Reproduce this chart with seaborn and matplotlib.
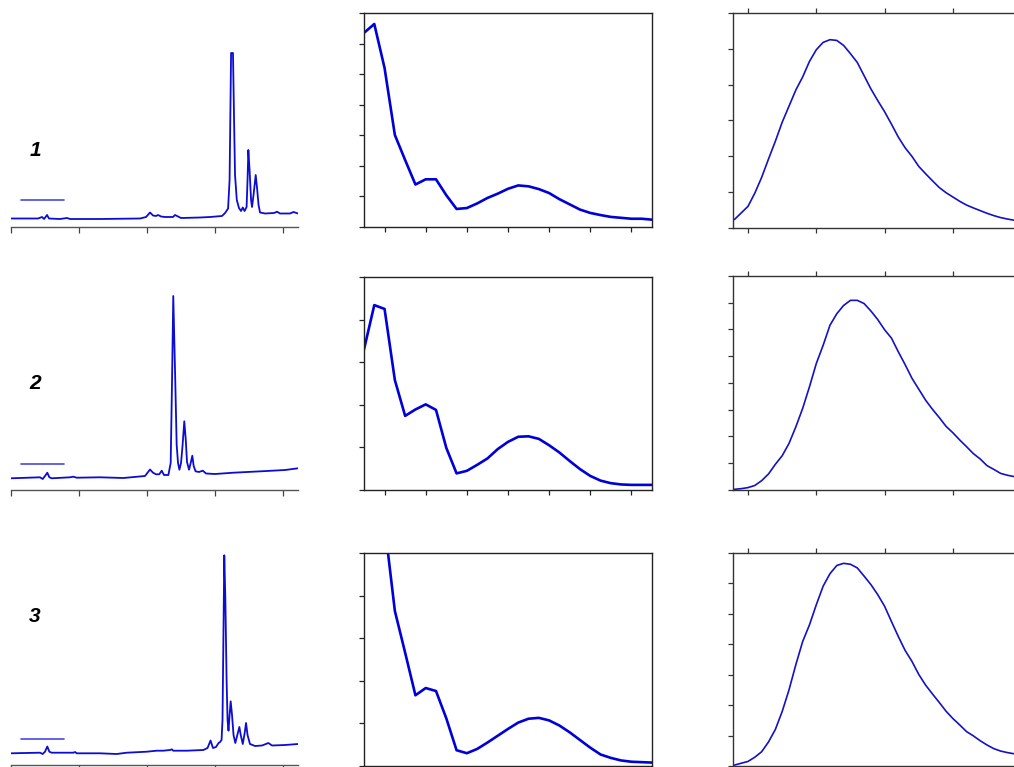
import matplotlib
matplotlib.use("Agg")
import matplotlib.pyplot as plt
import seaborn as sns

# ---------------- data ----------------
# Left column: chromatograms (retention time in min, detector signal)
chrom1_t = [0.0, 1.99, 2.28, 2.43, 2.65, 2.79, 3.6, 4.12, 4.34, 6.54, 9.49, 9.93, 10.22, 10.44, 10.66,
            10.81, 11.03, 11.32, 11.91, 12.06, 12.28, 12.5, 13.9, 14.63, 15.51, 15.74, 15.96, 16.07,
            16.18, 16.32, 16.4, 16.47, 16.6, 16.76, 16.91, 17.04, 17.17, 17.32, 17.39, 17.45, 17.54,
            17.65, 17.72, 17.83, 17.99, 18.09, 18.2, 18.31, 18.68, 19.34, 19.56, 19.78, 20.51, 20.77, 21.1]
chrom1_s = [8.5, 8.5, 10, 8, 12, 8.5, 8, 9, 8, 8, 8.5, 10, 14.5, 11.5, 11, 12, 10.5, 10, 10, 12, 10.5,
            9, 9.5, 10, 11, 14, 18.5, 47, 174, 174, 107, 52, 27, 19, 16, 19.5, 16, 20, 47, 77, 57, 27,
            20, 32, 52, 39, 22, 14.5, 13.5, 14, 15.3, 13.5, 13.5, 15, 13.5]

chrom2_t = [0.0, 2.13, 2.33, 2.5, 2.67, 2.82, 2.99, 4.34, 4.58, 4.83, 6.54, 8.26, 9.85, 10.22, 10.44,
            10.66, 10.9, 11.08, 11.25, 11.57, 11.74, 11.84, 11.93, 12.06, 12.18, 12.28, 12.38, 12.5,
            12.61, 12.74, 12.85, 12.94, 13.09, 13.21, 13.33, 13.43, 13.57, 13.82, 14.1, 14.34, 15.0,
            16.35, 18.8, 20.15, 21.1]
chrom2_s = [11.7, 12.7, 11, 14, 17.3, 12.7, 11.7, 12.7, 13.3, 12.3, 12.7, 12, 14, 20.5, 17.3, 15.7,
            15.7, 19.3, 15, 15, 27, 110, 194, 119, 45, 27, 20.3, 27, 44, 68.7, 50, 28, 20.3, 27, 34.3,
            24, 18.7, 18, 19.3, 16.5, 16, 17.3, 19, 20, 21.7]

chrom3_t = [0.0, 2.13, 2.33, 2.5, 2.67, 2.82, 2.99, 4.58, 4.71, 4.83, 6.54, 7.77, 8.51, 9.98, 10.71,
            11.2, 11.69, 11.82, 11.93, 12.92, 14.14, 14.45, 14.67, 14.85, 15.07, 15.26, 15.37, 15.48,
            15.55, 15.63, 15.68, 15.76, 15.85, 15.92, 15.99, 16.07, 16.15, 16.25, 16.36, 16.49, 16.64,
            16.79, 16.89, 17.04, 17.18, 17.28, 17.39, 17.57, 17.94, 18.46, 18.92, 19.19, 20.15, 21.1]
chrom3_s = [11.7, 12.3, 11, 13.3, 18.5, 13.3, 12.3, 12.3, 13, 11.7, 11.7, 11, 12.3, 13.3, 14.3, 14.3,
            15, 15.7, 14.3, 14.3, 15, 17, 24.5, 17, 18, 22, 23, 25, 45, 145, 209.7, 165, 85, 45, 34.3,
            50, 63.7, 50, 30, 22, 30, 38, 30, 21, 32, 42, 30, 21, 19, 19.5, 22, 19.5, 20, 21]

# scale bars drawn in the chromatogram panels
bar_t = [0.74, 3.9]
bar_s = [27, 26, 26]

chrom_ylim = [214, 213, 212]
chrom_ticks = [0, 5, 10, 15, 20]

# Middle column: UV absorption spectra
uv_nm = [190, 195, 200, 205, 210, 215, 220, 225, 230, 235, 240, 245, 250, 255, 260, 265, 270,
         275, 280, 285, 290, 295, 300, 305, 310, 315, 320, 325, 330]
uv1 = [0.635, 0.664, 0.520, 0.301, 0.219, 0.139, 0.156, 0.156, 0.104, 0.059, 0.062, 0.077, 0.095,
       0.109, 0.125, 0.136, 0.133, 0.124, 0.111, 0.091, 0.074, 0.057, 0.046, 0.039, 0.033, 0.030,
       0.027, 0.027, 0.024]
uv2 = [0.330, 0.434, 0.425, 0.258, 0.174, 0.189, 0.201, 0.188, 0.099, 0.039, 0.045, 0.059, 0.074,
       0.096, 0.113, 0.125, 0.126, 0.120, 0.105, 0.088, 0.068, 0.049, 0.033, 0.022, 0.016, 0.013,
       0.012, 0.012, 0.012]
uv3 = [0.58, 0.62, 0.568, 0.364, 0.266, 0.166, 0.183, 0.176, 0.112, 0.037, 0.030, 0.040, 0.055,
       0.071, 0.087, 0.102, 0.111, 0.113, 0.107, 0.095, 0.079, 0.061, 0.043, 0.027, 0.019, 0.013,
       0.010, 0.009, 0.008]
uv_xticks = [200, 220, 240, 260, 280, 300, 320]
uv_ymax = [0.7, 0.5, 0.5]

# Right column: emission spectra
em_nm = [380, 390, 400, 410, 420, 430, 440, 450, 460, 470, 480, 490, 500, 510, 520, 530, 540, 550,
         560, 570, 580, 590, 600, 610, 620, 630, 640, 650, 660, 670, 680, 690, 700, 710, 720, 730,
         740, 750, 760, 770, 780, 790]
em1 = [0.047, 0.084, 0.121, 0.195, 0.283, 0.385, 0.484, 0.59, 0.68, 0.77, 0.843, 0.930, 0.995,
       1.036, 1.051, 1.047, 1.019, 0.973, 0.924, 0.850, 0.776, 0.711, 0.649, 0.580, 0.508, 0.448,
       0.400, 0.344, 0.303, 0.264, 0.226, 0.197, 0.173, 0.149, 0.128, 0.112, 0.097, 0.082, 0.069,
       0.058, 0.050, 0.043]
em2 = [0.0025, 0.005, 0.009, 0.017, 0.035, 0.060, 0.096, 0.128, 0.174, 0.236, 0.305, 0.386, 0.473,
       0.541, 0.616, 0.659, 0.690, 0.709, 0.709, 0.697, 0.669, 0.637, 0.599, 0.568, 0.517, 0.469,
       0.418, 0.377, 0.336, 0.302, 0.271, 0.238, 0.214, 0.187, 0.162, 0.136, 0.116, 0.091, 0.077,
       0.062, 0.055, 0.050]
em3 = [0.003, 0.009, 0.015, 0.029, 0.047, 0.079, 0.120, 0.179, 0.250, 0.333, 0.409, 0.464, 0.530,
       0.591, 0.632, 0.659, 0.666, 0.663, 0.651, 0.624, 0.596, 0.563, 0.525, 0.475, 0.426, 0.380,
       0.344, 0.301, 0.266, 0.237, 0.209, 0.180, 0.156, 0.135, 0.113, 0.099, 0.083, 0.069, 0.057,
       0.049, 0.044, 0.040]
em_xticks = [400, 500, 600, 700]
em_ymax = [1.2, 0.8, 0.7]
em_ystep = [0.2, 0.1, 0.1]

row_labels = ["1", "2", "3"]

# ---------------- layout ----------------
sns.set_theme(style="ticks")
plt.rcParams['font.family'] = ['Liberation Sans', 'DejaVu Sans']

W, H = 1014, 767
fig = plt.figure(figsize=(W / 100, H / 100), dpi=100)

def axes_px(x0, y0, x1, y1):
    return fig.add_axes([x0 / W, 1 - y1 / H, (x1 - x0) / W, (y1 - y0) / H])

chrom_rows = [(13, 227), (277, 490), (553, 765)]
mid_rows = [(13, 227), (277, 490), (553, 766)]
right_rows = [(13, 228), (276, 490), (553, 766)]
label_y = [150, 383, 617]

chrom_color = "#0c0cd2"
bar_color = "#4848e4"
uv_color = "#0000d8"
em_color = "#1212c4"

chroms = [(chrom1_t, chrom1_s), (chrom2_t, chrom2_s), (chrom3_t, chrom3_s)]
uvs = [uv1, uv2, uv3]
ems = [em1, em2, em3]

for i in range(3):
    # ----- chromatogram -----
    y0, y1 = chrom_rows[i]
    ax = axes_px(11, y0, 298, y1)
    t, s = chroms[i]
    sns.lineplot(x=t, y=s, ax=ax, color=chrom_color, linewidth=1.3,
                 estimator=None, sort=False)
    sns.lineplot(x=bar_t, y=[bar_s[i], bar_s[i]], ax=ax, color=bar_color,
                 linewidth=1.2, estimator=None, sort=False)
    ax.set_xlim(0, 21.1)
    ax.set_ylim(0, chrom_ylim[i])
    ax.set_xticks(chrom_ticks)
    ax.set_yticks([])
    ax.set_xticklabels([])
    for side in ["top", "right", "left"]:
        ax.spines[side].set_visible(False)
    ax.spines["bottom"].set_color("#555555")
    ax.spines["bottom"].set_linewidth(1.0)
    ax.tick_params(axis="x", direction="out", length=4, width=0.9, color="#444444")
    ax.set_xlabel("")
    ax.set_ylabel("")
    ax.patch.set_alpha(0)

    fig.text(35 / W, 1 - label_y[i] / H, row_labels[i], ha="center", va="center",
             fontsize=15, fontweight="bold", fontstyle="italic", color="black")

    # ----- UV spectrum -----
    y0, y1 = mid_rows[i]
    ax = axes_px(364, y0, 652, y1)
    sns.lineplot(x=uv_nm, y=uvs[i], ax=ax, color=uv_color, linewidth=1.9,
                 estimator=None, sort=False)
    ax.set_xlim(190, 330)
    ax.set_ylim(0, uv_ymax[i])
    ax.set_xticks(uv_xticks)
    nticks = int(round(uv_ymax[i] / 0.1))
    ax.set_yticks([k * 0.1 for k in range(nticks + 1)])
    ax.set_xticklabels([])
    ax.set_yticklabels([])
    for side in ["top", "right", "left", "bottom"]:
        ax.spines[side].set_visible(True)
        ax.spines[side].set_color("#222222")
        ax.spines[side].set_linewidth(1.0)
    ax.tick_params(axis="both", direction="out", length=3.5, width=0.9, color="#222222")
    ax.set_xlabel("")
    ax.set_ylabel("")

    # ----- emission spectrum -----
    y0, y1 = right_rows[i]
    ax = axes_px(733, y0, 1014, y1)
    sns.lineplot(x=em_nm, y=ems[i], ax=ax, color=em_color, linewidth=1.2,
                 estimator=None, sort=False)
    ax.set_xlim(378, 789.5)
    ax.set_ylim(0, em_ymax[i])
    ax.set_xticks(em_xticks)
    nticks = int(round(em_ymax[i] / em_ystep[i]))
    ax.set_yticks([k * em_ystep[i] for k in range(nticks + 1)])
    ax.set_xticklabels([])
    ax.set_yticklabels([])
    ax.spines["right"].set_visible(False)
    for side in ["top", "left", "bottom"]:
        ax.spines[side].set_visible(True)
        ax.spines[side].set_color("#333333")
        ax.spines[side].set_linewidth(1.0)
    ax.tick_params(axis="x", top=True, bottom=True, direction="out", length=3.5,
                   width=0.9, color="#333333")
    ax.tick_params(axis="y", left=True, right=False, direction="out", length=3.5,
                   width=0.9, color="#333333")
    ax.set_xlabel("")
    ax.set_ylabel("")

fig.savefig("out.png", dpi=100)
